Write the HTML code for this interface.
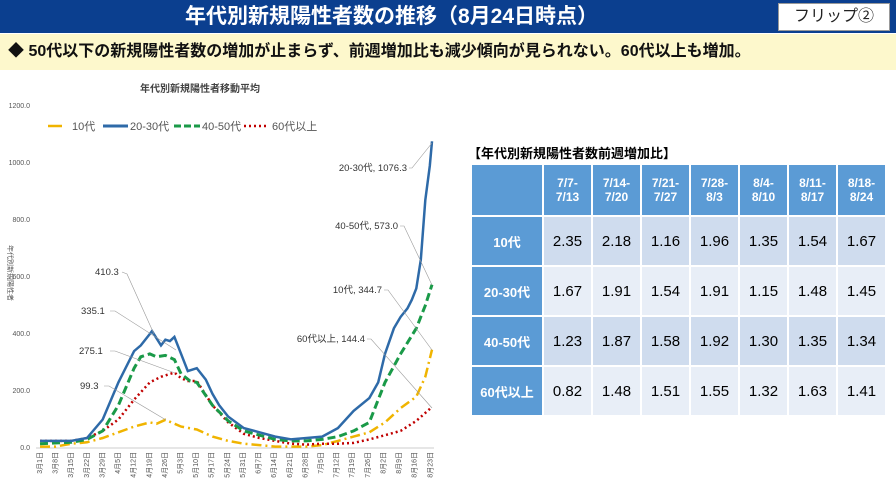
<!DOCTYPE html><html><head><meta charset="utf-8"><style>
body{margin:0;width:896px;height:504px;background:#fff;font-family:"Liberation Sans","Noto Sans CJK JP",sans-serif;position:relative;overflow:hidden}
.bar{position:absolute;left:0;top:0;width:896px;height:33px;background:#0b3f8f;color:#fff;font-size:21px;font-weight:bold;text-align:center;line-height:33px}
.bar span{position:absolute;left:185px}
.flip{position:absolute;left:778px;top:3px;width:110px;height:26px;background:#fff;border:1px solid #999;color:#222;font-size:16px;text-align:center;line-height:26px;font-weight:normal}
.yel{position:absolute;left:0;top:34px;width:896px;height:36px;background:#fdf8cc;font-size:16px;font-weight:bold;line-height:36px;padding-left:8px;box-sizing:border-box;color:#111}
table{position:absolute;left:470px;top:163px;border-collapse:separate;border-spacing:2px 2px;font-size:15px}
td{width:47px;text-align:center;height:48px;padding:0}
th{background:#5b9bd5;color:#fff;font-size:12px;font-weight:bold;height:48px}
tr.a td{background:#cfdcee}tr.b td{background:#e8eef7}
tr td.h{width:68px;background:#5b9bd5;color:#fff;font-weight:bold;font-size:13px}
.tt{position:absolute;left:468px;top:143px;font-size:13px;font-weight:bold}
</style></head><body>
<div class="bar"><span>年代別新規陽性者数の推移（8月24日時点）</span><div class="flip">フリップ②</div></div>
<div class="yel">◆ 50代以下の新規陽性者数の増加が止まらず、前週増加比も減少傾向が見られない。60代以上も増加。</div>
<svg width="450" height="504" style="position:absolute;left:0;top:0" font-family="Liberation Sans,Noto Sans CJK JP,sans-serif">
<text x="200" y="92" font-size="10" font-weight="bold" text-anchor="middle" fill="#444">年代別新規陽性者移動平均</text>
<g font-size="7" fill="#555" text-anchor="end">
<text x="30" y="108">1200.0</text><text x="30" y="165">1000.0</text><text x="30" y="222">800.0</text><text x="30" y="279">600.0</text><text x="30" y="336">400.0</text><text x="30" y="393">200.0</text><text x="30" y="450">0.0</text></g>
<text transform="translate(8,245) rotate(90)" font-size="7" fill="#555">年代別新規陽性者</text>
<line x1="36" y1="448" x2="434" y2="448" stroke="#ccc"/>
<g font-size="11" fill="#555">
<line x1="48" y1="126" x2="62" y2="126" stroke="#f0b400" stroke-width="2.5"/><text x="72" y="130">10代</text>
<line x1="103" y1="126" x2="128" y2="126" stroke="#2e6aa8" stroke-width="3"/><text x="130" y="130">20-30代</text>
<line x1="174" y1="126" x2="200" y2="126" stroke="#1a9a48" stroke-width="3" stroke-dasharray="7,3"/><text x="202" y="130">40-50代</text>
<line x1="244" y1="126" x2="268" y2="126" stroke="#c00000" stroke-width="2.5" stroke-dasharray="2,3"/><text x="272" y="130">60代以上</text></g>
<g id="xt" font-size="7" fill="#555"></g>
<path id="p10" fill="none" stroke="#f0b400" stroke-width="2.5" stroke-dasharray="10,4,2,4"/>
<path id="p60" fill="none" stroke="#c00000" stroke-width="2.5" stroke-dasharray="2,3"/>
<path id="p40" fill="none" stroke="#1a9a48" stroke-width="3" stroke-dasharray="8,4"/>
<path id="p20" fill="none" stroke="#2e6aa8" stroke-width="2.5"/>
<g stroke="#999" stroke-width="0.6" fill="none">
<polyline points="122,272 127,274 154,334"/><polyline points="110,311 115,311 176,350"/><polyline points="110,351 115,351 175,373"/><polyline points="104,386 109,386 166,420"/>
<polyline points="409,168 412,168 432,143"/><polyline points="400,226 404,226 432,285"/><polyline points="384,290 388,290 432,350"/><polyline points="367,339 371,339 432,408"/></g>
<g font-size="9.5" fill="#333">
<text x="95" y="275">410.3</text><text x="81" y="314">335.1</text><text x="79" y="354">275.1</text><text x="80" y="389">99.3</text>
<text x="407" y="171" text-anchor="end">20-30代, 1076.3</text><text x="398" y="229" text-anchor="end">40-50代, 573.0</text>
<text x="382" y="293" text-anchor="end">10代, 344.7</text><text x="365" y="342" text-anchor="end">60代以上, 144.4</text></g>
</svg>
<div class="tt">【年代別新規陽性者数前週増加比】</div>
<table>
<tr><th style="width:68px"></th><th>7/7-<br>7/13</th><th>7/14-<br>7/20</th><th>7/21-<br>7/27</th><th>7/28-<br>8/3</th><th>8/4-<br>8/10</th><th>8/11-<br>8/17</th><th>8/18-<br>8/24</th></tr>
<tr class="a"><td class="h">10代</td><td>2.35</td><td>2.18</td><td>1.16</td><td>1.96</td><td>1.35</td><td>1.54</td><td>1.67</td></tr>
<tr class="b"><td class="h">20-30代</td><td>1.67</td><td>1.91</td><td>1.54</td><td>1.91</td><td>1.15</td><td>1.48</td><td>1.45</td></tr>
<tr class="a"><td class="h">40-50代</td><td>1.23</td><td>1.87</td><td>1.58</td><td>1.92</td><td>1.30</td><td>1.35</td><td>1.34</td></tr>
<tr class="b"><td class="h">60代以上</td><td>0.82</td><td>1.48</td><td>1.51</td><td>1.55</td><td>1.32</td><td>1.63</td><td>1.41</td></tr>
</table>
<script>
var X=d=>40+d*2.24,Y=v=>448-v*0.285;
function P(id,a){var s='';for(var i=0;i<a.length;i+=2)s+=(i?'L':'M')+X(a[i]).toFixed(1)+','+Y(a[i+1]).toFixed(1);document.getElementById(id).setAttribute('d',s);}
P('p20',[0,25,14,25,21,35,28,100,35,230,42,340,45,360,49,400,50,410,54,360,56,380,58,375,60,390,63,330,66,270,70,280,74,240,77,190,80,150,84,110,91,70,98,55,105,40,112,30,119,35,126,40,133,70,140,130,147,175,151,230,154,330,158,420,161,460,164,490,166,520,168,560,170,660,172,870,174,990,175,1076]);
P('p40',[0,15,14,20,21,30,28,60,35,150,42,280,45,320,49,330,52,320,56,325,60,310,63,260,67,235,70,230,77,150,84,95,91,60,98,45,105,30,112,25,119,25,126,30,133,40,140,60,147,90,154,230,161,330,168,420,172,500,175,573]);
P('p60',[0,25,14,25,21,35,28,60,35,100,42,170,49,230,54,250,60,265,63,245,66,235,70,235,77,150,84,90,91,50,98,35,105,25,112,15,119,12,126,15,133,15,140,18,147,30,154,45,161,60,168,95,175,144]);
P('p10',[0,5,7,5,14,15,21,20,28,35,35,55,42,75,49,90,52,85,56,99,63,75,70,65,77,40,84,25,91,15,98,10,105,5,112,5,119,5,126,10,133,25,140,40,147,55,154,90,161,140,168,180,172,250,175,345]);
var m=[[3,1],[3,8],[3,15],[3,22],[3,29],[4,5],[4,12],[4,19],[4,26],[5,3],[5,10],[5,17],[5,24],[5,31],[6,7],[6,14],[6,21],[6,28],[7,5],[7,12],[7,19],[7,26],[8,2],[8,9],[8,16],[8,23]],g=document.getElementById('xt'),h='';
m.forEach((t,i)=>{var x=40+i*7*2.23+2;h+='<text transform="translate('+x+',452) rotate(-90)" text-anchor="end">'+t[0]+'月'+t[1]+'日</text>';});
g.innerHTML=h;
</script>
</body></html>
